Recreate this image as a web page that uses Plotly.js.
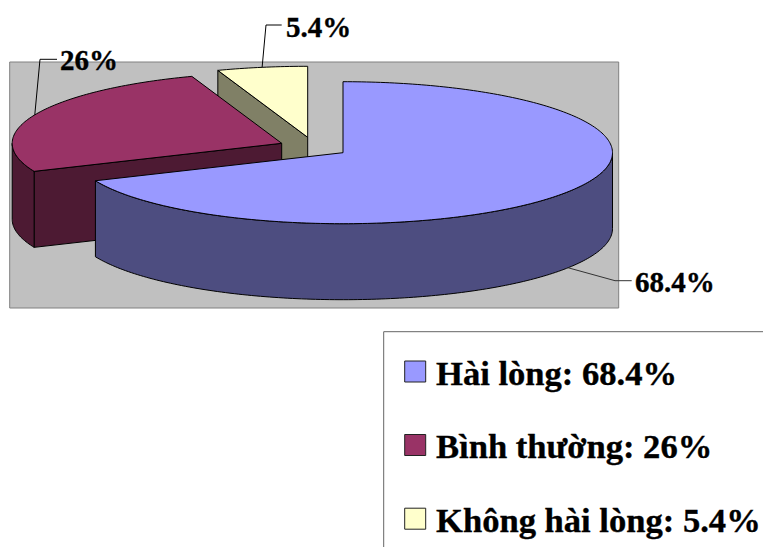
<!DOCTYPE html>
<html>
<head>
<meta charset="utf-8">
<script src="https://cdn.plot.ly/plotly-3.0.1.min.js"></script>
<style>
html,body{margin:0;padding:0;background:#fff}
#chart{width:763px;height:547px}
/* The labels are set in a heavy serif */
#chart .annotation-text{stroke:#000;stroke-width:0.35px}
</style>
</head>
<body>
<div id="chart"></div>
<script>
// Survey results
const categories = ['Hài lòng', 'Bình thường', 'Không hài lòng'];
const percentValues = [68.4, 26, 5.4];
const percentLabels = ['68.4%', '26%', '5.4%'];

// Slice styling, back to front is handled further down
const topColors = ['#9999FF', '#993366', '#FFFFCC'];
const sideColors = ['#4D4D80', '#4D1A33', '#808066'];

// Projection of the tilted disc, in plot units
const RX = 269.5, RY = 71, DEPTH = 76;
const apexes = [[343, 152.7], [281.7, 143.3], [307.7, 137.3]];

const total = percentValues.reduce((a, b) => a + b, 0);
const rad = d => d * Math.PI / 180;

// Angles run clockwise from twelve o'clock
function rim(i, deg, drop) {
  return [apexes[i][0] + RX * Math.sin(rad(deg)),
          apexes[i][1] - RY * Math.cos(rad(deg)) + (drop || 0)];
}
function arc(i, a0, a1, drop) {
  const n = Math.max(2, Math.ceil(Math.abs(a1 - a0)));
  const pts = [];
  for (let k = 0; k <= n; k++) pts.push(rim(i, a0 + (a1 - a0) * k / n, drop));
  return pts;
}
function polygon(pts, color) {
  const closed = pts.concat([pts[0]]);
  return {
    type: 'scatter', mode: 'lines', fill: 'toself', fillcolor: color,
    x: closed.map(p => p[0]), y: closed.map(p => p[1]),
    line: {color: '#000', width: 1, simplify: false},
    hoverinfo: 'skip', showlegend: false
  };
}

// Slice start and end angles derived from the values
const spans = [];
let running = 0;
percentValues.forEach(v => {
  const sweep = v / total * 360;
  spans.push([running, running + sweep]);
  running += sweep;
});

const traces = [];

// Yellow slice: inner wall, then its top
{
  const i = 2, [a0, a1] = spans[i], ap = apexes[i];
  const s = rim(i, a0);
  traces.push(polygon([s, ap, [ap[0], ap[1] + DEPTH], [s[0], s[1] + DEPTH]], sideColors[i]));
  traces.push(polygon([ap].concat(arc(i, a0, a1)), topColors[i]));
}
// Maroon slice: straight wall, curved wall, top
{
  const i = 1, [a0, a1] = spans[i], ap = apexes[i];
  const s = rim(i, a0);
  traces.push(polygon([ap, s, [s[0], s[1] + DEPTH], [ap[0], ap[1] + DEPTH]], sideColors[i]));
  traces.push(polygon(arc(i, a0, 270).concat(arc(i, 270, a0, DEPTH)), sideColors[i]));
  traces.push(polygon([ap].concat(arc(i, a0, a1)), topColors[i]));
}
// Blue slice: curved front wall, top
{
  const i = 0, [a0, a1] = spans[i], ap = apexes[i];
  traces.push(polygon(arc(i, 90, a1).concat(arc(i, a1, 90, DEPTH)), sideColors[i]));
  traces.push(polygon([ap].concat(arc(i, a0, a1)), topColors[i]));
}

// Leader lines start at each slice's mid angle
const leaderBends = [[[615, 280.7], [631.7, 280.7]], [[40, 59.3], [57, 59.3]], [[266, 25], [281.7, 25]]];
const leaderDrops = [DEPTH, 0, 0];
const leaderColors = ['#333', '#000', '#000'];
percentValues.forEach((v, i) => {
  const mid = (spans[i][0] + spans[i][1]) / 2;
  const pts = [rim(i, mid, leaderDrops[i])].concat(leaderBends[i]);
  traces.push({
    type: 'scatter', mode: 'lines',
    x: pts.map(p => p[0]), y: pts.map(p => p[1]),
    line: {color: leaderColors[i], width: 1},
    hoverinfo: 'skip', showlegend: false
  });
});

const legendRowY = [371.5, 445, 518.7];
const serif = 'Liberation Serif, Times New Roman, serif';
const labelPos = [[632.5, 281.5], [57.5, 59.5], [283.5, 26.5]];
const annotations = percentLabels.map((t, i) => ({
  x: labelPos[i][0], y: labelPos[i][1], xref: 'x', yref: 'y',
  text: '<b>' + t + '</b>', showarrow: false, xanchor: 'left', yanchor: 'middle',
  font: {family: serif, size: 29, color: '#000'}
})).concat(categories.map((c, i) => ({
  x: 433.5, y: legendRowY[i] + 1, xref: 'x', yref: 'y',
  text: '<b>' + c + ': ' + percentLabels[i] + '</b>', showarrow: false,
  xanchor: 'left', yanchor: 'middle',
  font: {family: serif, size: 34.6, color: '#000'}
})));

// Legend swatches, one per category
const swatches = categories.map((c, i) => ({
  type: 'rect', layer: 'above',
  x0: 404.7, x1: 425.7, y0: legendRowY[i] - 10.5, y1: legendRowY[i] + 10.5,
  fillcolor: topColors[i], line: {color: '#222', width: 1}
}));

const hiddenAxis = {visible: false, fixedrange: true, showgrid: false, zeroline: false};
const layout = {
  width: 763, height: 547,
  margin: {l: 0, r: 0, t: 0, b: 0},
  paper_bgcolor: '#fff', plot_bgcolor: '#fff',
  xaxis: Object.assign({range: [0, 763]}, hiddenAxis),
  yaxis: Object.assign({range: [547, 0]}, hiddenAxis),
  showlegend: false,
  shapes: [
    {type: 'rect', layer: 'below', x0: 9.7, x1: 618.7, y0: 62, y1: 308,
     fillcolor: '#C0C0C0', line: {color: '#808080', width: 1}},
    {type: 'rect', layer: 'below', x0: 383.7, x1: 800, y0: 331.7, y1: 600,
     fillcolor: '#fff', line: {color: '#666', width: 1}}
  ].concat(swatches),
  annotations: annotations
};

Plotly.newPlot('chart', traces, layout, {displayModeBar: false, staticPlot: true});
</script>
</body>
</html>
